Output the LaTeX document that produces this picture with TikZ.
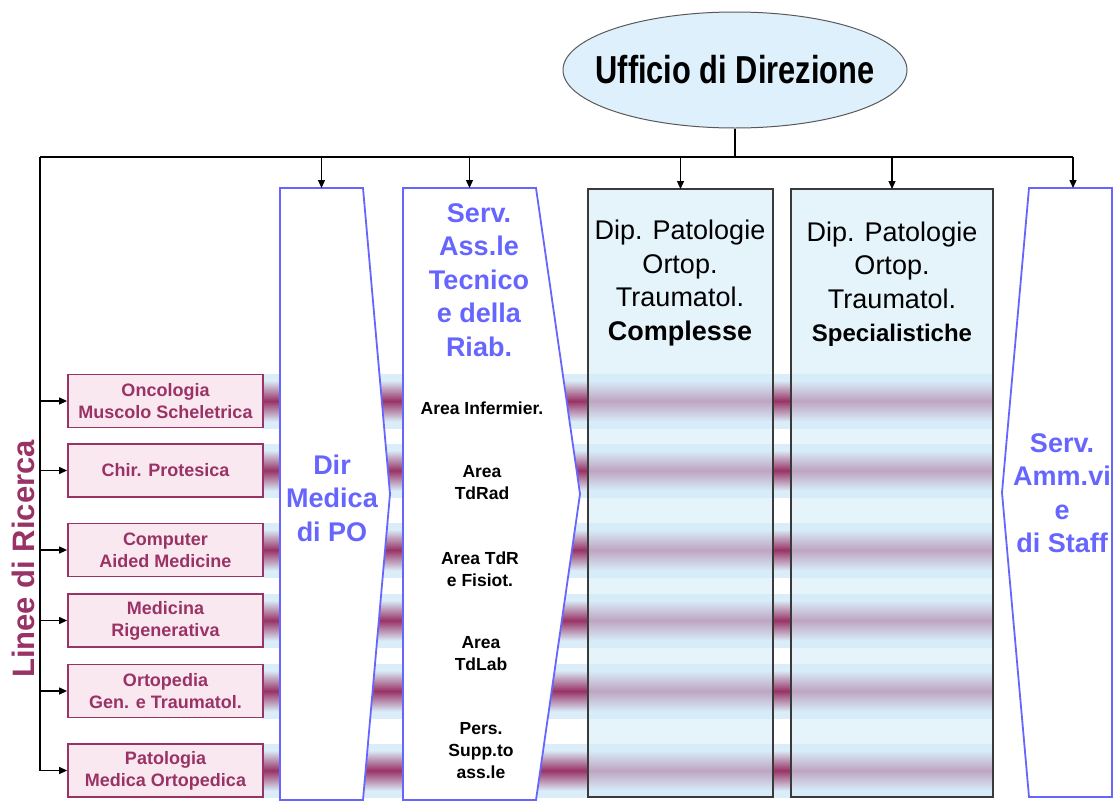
\documentclass[tikz,border=0pt]{standalone}
\usepackage{fontspec}
\setmainfont{Liberation Sans}
\usetikzlibrary{shapes.geometric,arrows.meta,calc}
\definecolor{blueline}{HTML}{6666FF}
\definecolor{mag}{HTML}{993366}
\definecolor{pinkfill}{HTML}{FAE8F0}
\definecolor{ellfill}{HTML}{DDF0FC}
\definecolor{dipfill}{HTML}{D6ECFA}
\definecolor{dipline}{HTML}{3A3A3A}
\definecolor{bandblue}{HTML}{DAEDF9}
\pgfdeclareverticalshading{bandshade}{100bp}{color(0bp)=(bandblue); color(25bp)=(bandblue); color(31bp)=(bandblue); color(50bp)=(mag); color(69bp)=(bandblue); color(75bp)=(bandblue); color(100bp)=(bandblue)}
\tikzset{
  wire/.style={draw=black,line width=1.3pt},
  conn/.style={draw=black,line width=1.3pt,-{Triangle[length=8pt,width=7pt]}},
  pinkbox/.style={draw=mag,line width=1.8pt,fill=pinkfill,minimum width=195pt,minimum height=53pt,inner sep=0pt,align=center,text=mag,font=\fontsize{18}{22}\selectfont\bfseries},
  colbox/.style={inner sep=0pt,outer sep=0pt},
  trap/.style={draw=blueline,line width=1.8pt,fill=white},
  dipbox/.style={draw=dipline,line width=1.2pt,fill=dipfill,fill opacity=0.62,inner sep=0pt,outer sep=0pt},
  bluetext/.style={align=center,text=blueline,font=\fontsize{27}{33.5}\selectfont\bfseries,inner sep=0pt},
  diptext/.style={align=center,text=black,font=\fontsize{27}{33.5}\selectfont,inner sep=0pt},
  areatext/.style={align=center,text=black,font=\fontsize{17.5}{22}\selectfont\bfseries,inner sep=0pt},
  band/.style={shading=bandshade}
}
\begin{document}
\begin{tikzpicture}[x=1pt,y=-1pt]
\clip (0,0) rectangle (1118,801);
\fill[white] (0,0) rectangle (1118,801);

% bands
\foreach \a/\b in {374/428,444/497,523/577,594/647,664/718,744/797}{
  \shade[band] (263,\a) rectangle (993,\b);
}

% column nodes
\node[colbox,minimum width=83pt,minimum height=612pt] (dir) at (321.5,494) {};
\node[colbox,minimum width=133pt,minimum height=612pt] (ass) at (469.5,494) {};
\node[colbox,minimum width=83pt,minimum height=609pt] (amm) at (1070.5,492.5) {};

\draw[trap] (dir.north west) -- (dir.north east) -- ($(dir.east)+(27,0)$) -- (dir.south east) -- (dir.south west) -- cycle;
\draw[trap] (ass.north west) -- (ass.north east) -- ($(ass.east)+(44,0)$) -- (ass.south east) -- (ass.south west) -- cycle;
\draw[trap] (amm.north west) -- (amm.north east) -- (amm.south east) -- (amm.south west) -- ($(amm.west)+(-27,0)$) -- cycle;

\node[dipbox,minimum width=185pt,minimum height=608pt] (dip1) at (680.5,493) {};
\node[dipbox,minimum width=202pt,minimum height=608pt] (dip2) at (892,493) {};

% ellipse
\node[ellipse,draw=black!65,line width=1pt,fill=ellfill,minimum width=344pt,minimum height=116pt,inner sep=0pt] (ufficio) at (735,70) {};
\node[inner sep=0pt] (ufficiot) at (ufficio.center)
  {\scalebox{0.79}[1]{\fontsize{39}{40}\selectfont\bfseries Ufficio di Direzione}};

% pink boxes
\node[pinkbox] (pk1) at (165.5,401) {Oncologia\\Muscolo Scheletrica};
\node[pinkbox] (pk2) at (165.5,470.5) {Chir. Protesica};
\node[pinkbox] (pk3) at (165.5,550) {Computer\\Aided Medicine};
\node[pinkbox] (pk4) at (165.5,620.5) {Medicina\\Rigenerativa};
\node[pinkbox] (pk5) at (165.5,691) {Ortopedia\\Gen. e Traumatol.};
\node[pinkbox] (pk6) at (165.5,770.5) {Patologia\\Medica Ortopedica};

\node[rotate=90,text=mag,font=\fontsize{31}{31}\selectfont\bfseries,inner sep=0pt] (linee) at (23,559) {Linee di Ricerca};

% texts
\node[bluetext] (dirt) at (332,498) {Dir\\Medica\\di PO};
\node[bluetext] (asst) at (479,280) {Serv.\\Ass.le\\Tecnico\\e della\\Riab.};
\node[bluetext] (ammt) at (1062,493) {Serv.\\Amm.vi\\e\\di Staff};

\node[diptext] (dip1t) at (680,283) {Dip. Patologie\\Ortop.\\Traumatol.\\\textbf{Complesse}};
\node[diptext] (dip2t) at (892,284) {Dip. Patologie\\Ortop.\\Traumatol.\\{\fontsize{24}{33.5}\selectfont\bfseries Specialistiche}};

\node[areatext] (a1) at (482,408) {Area Infermier.};
\node[areatext] (a2) at (482,483) {Area\\TdRad};
\node[areatext] (a3) at (480,569) {Area TdR\\e Fisiot.};
\node[areatext] (a4) at (481,654) {Area\\TdLab};
\node[areatext] (a5) at (481,751) {Pers.\\Supp.to\\ass.le};

% connectors
\coordinate (bus) at (735,157);
\coordinate (busL) at (40,157);
\coordinate (busR) at (1073,157);
\draw[wire] (ufficio.south) -- (bus);
\draw[wire] (busL) -- (busR);
\draw[conn] (bus -| dir.north) -- (dir.north);
\draw[conn] (bus -| ass.north) -- (ass.north);
\draw[conn] (bus -| dip1.north) -- (dip1.north);
\draw[conn] (bus -| dip2.north) -- (dip2.north);
\draw[conn] (busR) -- (busR |- amm.north);
\draw[wire] (busL) -- (busL |- pk6.west);
\foreach \p in {pk1,pk2,pk3,pk4,pk5,pk6}{
  \draw[conn] (busL |- \p.west) -- (\p.west);
}
\end{tikzpicture}
\end{document}
